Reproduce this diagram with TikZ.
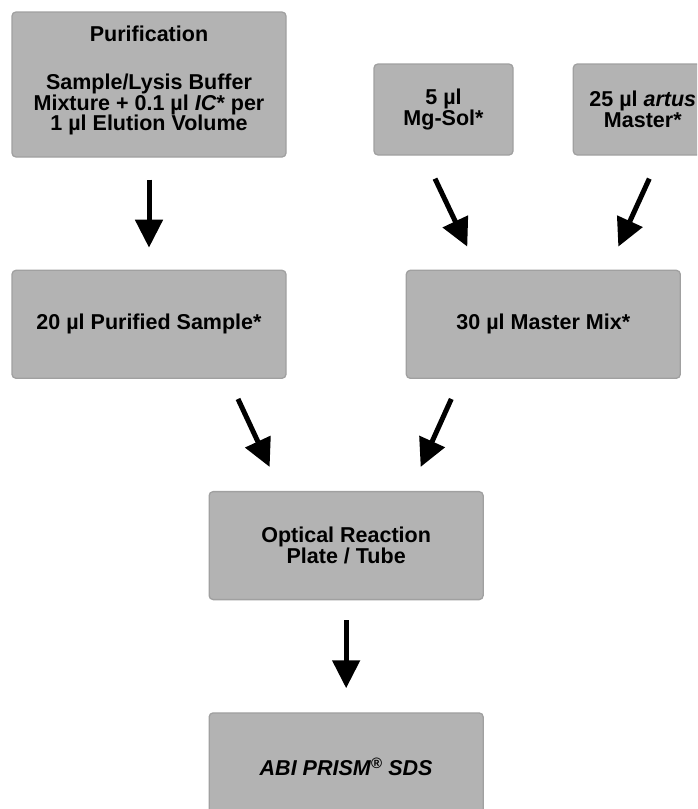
\documentclass[tikz,border=0pt]{standalone}
\usepackage{fontspec}
\setmainfont{Liberation Sans}
\usetikzlibrary{positioning, arrows.meta, calc}
\definecolor{boxgray}{HTML}{B3B3B3}
\definecolor{boxline}{HTML}{A0A0A0}

\begin{document}
\begin{tikzpicture}[x=1pt, y=-1pt, node distance=112pt,
        % Estilos de cajas y flechas
        stepbox/.style={
            draw=boxline,
            line width=1.3pt,
            rounded corners=4pt,
            fill=boxgray,
            minimum width=274pt,
            minimum height=108pt,
            inner sep=0pt,
            align=center,
            font=\fontsize{21.5}{20.5}\selectfont\bfseries
        },
        smallbox/.style={stepbox, minimum width=139pt, minimum height=91pt},
        bigarrow/.style={-{Triangle[length=28pt, width=27pt]}, line width=5pt}
    ]

    \useasboundingbox (0,0) rectangle (697,809);
    \clip (0,0) rectangle (697,809);

    % Nodes
    \node[stepbox, minimum height=145pt] (purif) at (149,84.5)
        {Purification\\[28pt]Sample/Lysis Buffer\\Mixture + 0.1 µl \textit{IC}* per\\1 µl Elution Volume\\[-14pt]\strut};
    \node[smallbox] (mgsol) at (443.5,109.5) {5 µl\\Mg-Sol*};
    \node[smallbox, right=59pt of mgsol] (artus) {25 µl \textit{artus}\\Master*};
    \node[stepbox, below=of purif] (sample) {20 µl Purified Sample*};
    \node[stepbox, right=119pt of sample] (mix) {30 µl Master Mix*};
    \coordinate (mid) at ($(sample.south)!0.5!(mix.south)$);
    \node[stepbox, below=of mid] (plate) {Optical Reaction\\Plate / Tube};
    \node[stepbox, below=of plate] (abi) {\textit{ABI PRISM\textsuperscript{®} SDS}};

    % Arrows
    \draw[bigarrow] ([yshift=-22pt]purif.south) -- ([yshift=22pt]sample.north);
    \draw[bigarrow] ([xshift=-8.5pt, yshift=-23pt]mgsol.south) -- ([xshift=-76pt, yshift=23pt]mix.north);
    \draw[bigarrow] ([xshift=6.5pt, yshift=-23pt]artus.south) -- ([xshift=75pt, yshift=23pt]mix.north);
    \draw[bigarrow] ([xshift=89pt, yshift=-20pt]sample.south) -- ([xshift=-76.5pt, yshift=24pt]plate.north);
    \draw[bigarrow] ([xshift=-92pt, yshift=-20pt]mix.south) -- ([xshift=74.5pt, yshift=24pt]plate.north);
    \draw[bigarrow] ([yshift=-20pt]plate.south) -- ([yshift=24pt]abi.north);

\end{tikzpicture}
\end{document}
